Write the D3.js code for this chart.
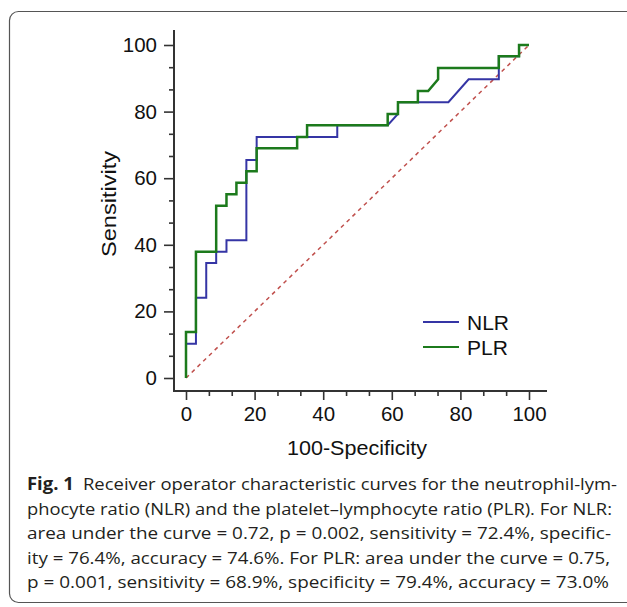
<!DOCTYPE html>
<html>
<head>
<meta charset="utf-8">
<script src="https://cdn.jsdelivr.net/npm/d3@7"></script>
<style>
  body { margin: 0; background: #fff; }
  svg { display: block; }
</style>
</head>
<body>
<svg id="chart" width="627" height="607"></svg>
<script>
// ROC points (100-specificity, sensitivity)
const nlrX = [0, 0, 2.9, 2.9, 5.9, 5.9, 8.8, 8.8, 11.8, 11.8, 17.6, 17.6, 20.6, 20.6, 44.1, 44.1, 58.8, 61.8, 61.8, 76.5, 82.4, 91.2, 91.2, 97.1, 97.1, 100];
const nlrY = [0, 10.3, 10.3, 24.1, 24.1, 34.5, 34.5, 37.9, 37.9, 41.4, 41.4, 65.5, 65.5, 72.4, 72.4, 75.9, 75.9, 79.3, 82.8, 82.8, 89.7, 89.7, 96.6, 96.6, 100, 100];

const plrX = [0, 0, 2.9, 2.9, 8.8, 8.8, 11.8, 11.8, 14.7, 14.7, 17.6, 17.6, 20.6, 20.6, 32.4, 32.4, 35.3, 35.3, 58.8, 58.8, 61.8, 61.8, 67.6, 67.6, 70.6, 73.5, 73.5, 91.2, 91.2, 97.1, 97.1, 100];
const plrY = [0, 13.8, 13.8, 37.9, 37.9, 51.7, 51.7, 55.2, 55.2, 58.6, 58.6, 62.1, 62.1, 69.0, 69.0, 72.4, 72.4, 75.9, 75.9, 79.3, 79.3, 82.8, 82.8, 86.2, 86.2, 89.7, 93.1, 93.1, 96.6, 96.6, 100, 100];

const majorTicks = [0, 20, 40, 60, 80, 100];
const seriesNames = ["NLR", "PLR"];
const seriesColors = ["#3535a5", "#1c7a1c"];

const captionLines = [
  "Receiver operator characteristic curves for the neutrophil-lym-",
  "phocyte ratio (NLR) and the platelet\u2013lymphocyte ratio (PLR). For NLR:",
  "area under the curve = 0.72, p = 0.002, sensitivity = 72.4%, specific-",
  "ity = 76.4%, accuracy = 74.6%. For PLR: area under the curve = 0.75,",
  "p = 0.001, sensitivity = 68.9%, specificity = 79.4%, accuracy = 73.0%"
];

const svg = d3.select("#chart");

// frame round the figure
svg.append("rect")
  .attr("x", 9.5).attr("y", 11.5)
  .attr("width", 700).attr("height", 591)
  .attr("rx", 9)
  .attr("fill", "none")
  .attr("stroke", "#555")
  .attr("stroke-width", 1.2);

const x = d3.scaleLinear().domain([0, 100]).range([186, 529]);
const y = d3.scaleLinear().domain([0, 100]).range([378, 45]);

const axisX0 = 174, axisY0 = 391;
const minorTicks = d3.range(0, 100.1, 20 / 3).filter(v => !majorTicks.some(m => Math.abs(m - v) < 0.01));
const tickFont = "Arial, 'Liberation Sans', sans-serif";

// y axis
const gy = svg.append("g").attr("transform", `translate(${axisX0},0)`);
gy.call(d3.axisLeft(y).tickValues(majorTicks).tickSize(10).tickPadding(7).tickFormat(d3.format("d")));
gy.append("g").call(d3.axisLeft(y).tickValues(minorTicks).tickSize(5).tickFormat(""));
gy.selectAll(".domain").remove();
gy.selectAll("line").attr("stroke", "#333").attr("stroke-width", 1.6);
gy.selectAll("text").attr("font-family", tickFont).attr("font-size", 20.5).attr("fill", "#111");
svg.append("line")
  .attr("x1", axisX0).attr("x2", axisX0)
  .attr("y1", 30).attr("y2", axisY0)
  .attr("stroke", "#333").attr("stroke-width", 2);

// x axis
const gx = svg.append("g").attr("transform", `translate(0,${axisY0})`);
gx.call(d3.axisBottom(x).tickValues(majorTicks).tickSize(9).tickPadding(6).tickFormat(d3.format("d")));
gx.append("g").call(d3.axisBottom(x).tickValues(minorTicks).tickSize(5).tickFormat(""));
gx.selectAll(".domain").remove();
gx.selectAll("line").attr("stroke", "#333").attr("stroke-width", 1.6);
gx.selectAll("text").attr("font-family", tickFont).attr("font-size", 20.5).attr("fill", "#111");
svg.append("line")
  .attr("x1", axisX0 - 1).attr("x2", 547)
  .attr("y1", axisY0).attr("y2", axisY0)
  .attr("stroke", "#333").attr("stroke-width", 2);

// axis titles
svg.append("text")
  .attr("transform", `translate(116,204) rotate(-90)`)
  .attr("text-anchor", "middle")
  .attr("font-family", tickFont).attr("font-size", 20).attr("fill", "#111")
  .attr("textLength", 106).attr("lengthAdjust", "spacingAndGlyphs")
  .text("Sensitivity");
svg.append("text")
  .attr("x", 357).attr("y", 455)
  .attr("text-anchor", "middle")
  .attr("font-family", tickFont).attr("font-size", 20).attr("fill", "#111")
  .attr("textLength", 140).attr("lengthAdjust", "spacingAndGlyphs")
  .text("100-Specificity");

// reference diagonal
svg.append("line")
  .attr("x1", x(0)).attr("y1", y(0))
  .attr("x2", x(100)).attr("y2", y(100))
  .attr("stroke", "#c0504d").attr("stroke-width", 1.5)
  .attr("stroke-dasharray", "4,4");

const line = d3.line().x(d => x(d[0])).y(d => y(d[1]));
const series = [d3.zip(nlrX, nlrY), d3.zip(plrX, plrY)];

svg.selectAll("path.roc")
  .data(series)
  .join("path")
  .attr("class", "roc")
  .attr("d", line)
  .attr("fill", "none")
  .attr("stroke", (d, i) => seriesColors[i])
  .attr("stroke-width", (d, i) => i === 0 ? 2 : 2.5);

// legend
const lg = svg.append("g");
seriesNames.forEach((name, i) => {
  const ly = 322 + i * 25;
  lg.append("line")
    .attr("x1", 423).attr("x2", 459)
    .attr("y1", ly).attr("y2", ly)
    .attr("stroke", seriesColors[i]).attr("stroke-width", 2.2);
  lg.append("text")
    .attr("x", 467).attr("y", ly + 7.5)
    .attr("font-family", tickFont).attr("font-size", 21).attr("fill", "#111")
    .text(name);
});

// caption
const cap = svg.append("g")
  .attr("font-family", "'Open Sans', 'Noto Sans', sans-serif")
  .attr("font-size", 17)
  .attr("fill", "#231f20");
captionLines.forEach((txt, i) => {
  const t = cap.append("text")
    .attr("x", 27).attr("y", 490 + i * 24.6)
    .attr("textLength", i === 0 ? 590 : 586 - i * 1)
    .attr("lengthAdjust", "spacingAndGlyphs");
  if (i === 0) {
    t.append("tspan").attr("font-weight", "bold").text("Fig. 1");
    t.append("tspan").text("\u2002" + txt);
  } else {
    t.text(txt);
  }
});
</script>
</body>
</html>
